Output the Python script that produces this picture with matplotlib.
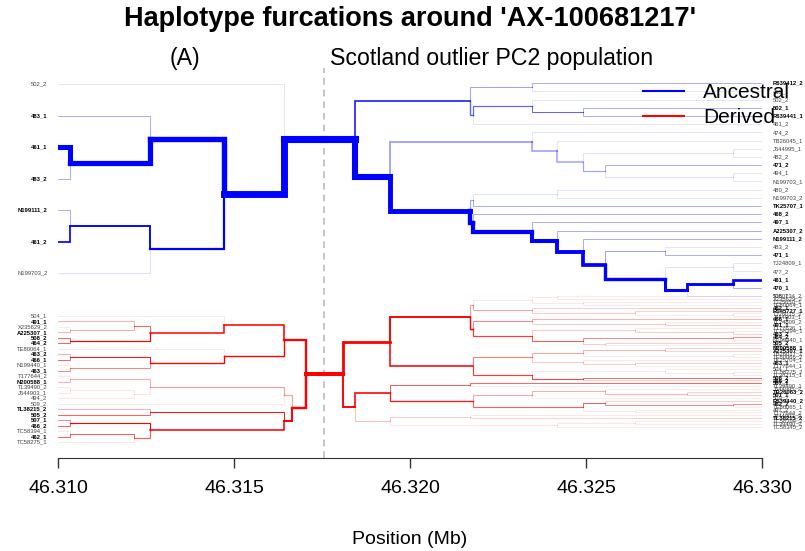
import numpy as np
import matplotlib.pyplot as plt
from matplotlib.lines import Line2D

plt.rcParams['font.family'] = ['Liberation Sans', 'DejaVu Sans']

# focal marker and axis
core_pos = 46.31756
x_ticks = [46.310, 46.315, 46.320, 46.325, 46.330]

# trees: (split position in Mb, child, child) ; leaves = haplotype labels
blue_left = (46.31642, "502_2",
             (46.31472,
              (46.31261, "483_1", (46.31034, "461_1", "483_2")),
              (46.31261, (46.31034, "N199111_2", "461_2"), "N199703_2")))
blue_left_counts = {"461_1": 26, "461_2": 6, "N199703_2": 2}
blue_left_bold = ["483_1", "461_1", "483_2", "N199111_2", "461_2"]

blue_right = (46.31844,
              (46.32170,
               (46.32346, "R639412_2", "465_1"),
               (46.32178, (46.32346, "502_2", (46.32492, "502_1", "R639441_1")), "461_2")),
              (46.31943,
               (46.32346, "474_2",
                (46.32419, "TB26045_1",
                 (46.32492, (46.32918, "J644995_1", "482_2"),
                  (46.32554, "471_2", (46.32918, "494_1", "N199703_1"))))),
               (46.32170,
                (46.32178, (46.32419, "480_2", "N199703_2"), "TK25707_1"),
                (46.32178, "468_2",
                 (46.32346, "497_1",
                  (46.32419, "A225307_2",
                   (46.32492, "N199111_2",
                    (46.32554, (46.32724, "483_2", "471_1"),
                     (46.32724, (46.32918, "TJ24809_1", "477_2"),
                      (46.32788, (46.32918, "461_1", "470_1"), "508_1"))))))))))
blue_right_counts = {"461_1": 12}
blue_right_bold = ["R639412_2", "502_1", "R639441_1", "471_2", "TK25707_1", "468_2",
                   "497_1", "A225307_2", "N199111_2", "471_1", "461_1", "470_1"]

red_left = (46.31704,
            (46.31642,
             (46.31472, "504_1",
              (46.31261, (46.31216, "491_1", (46.31034, "X235629_2", "A225307_1")),
               (46.31034, "508_2", "464_2"))),
             (46.31472, "TE80064_1",
              (46.31261, (46.31034, "463_2", "466_1"), (46.31034, "N199440_1", "463_1")))),
            (46.31664,
             (46.31642,
              (46.31261, (46.31034, "T177644_2", "N200588_1"),
               (46.31216, (46.31034, "TL39490_2", "J644903_1"), "494_2")),
              "509_2"),
             (46.31642,
              (46.31261, "TL38215_2", "505_2"),
              (46.31261, (46.31034, "507_1", "466_2"),
               (46.31216, (46.31034, "TC58394_1", "462_1"), "TC58275_1")))))
red_left_counts = {"491_1": 2, "A225307_1": 2, "508_2": 4, "464_2": 4, "463_2": 2,
                   "466_1": 4, "463_1": 3, "N200588_1": 2, "J644903_1": 2,
                   "TL38215_2": 2, "505_2": 4, "507_1": 3, "466_2": 4, "462_1": 4,
                   "TC58275_1": 2}
red_left_bold = ["491_1", "A225307_1", "508_2", "464_2", "463_2", "466_1", "463_1",
                 "N200588_1", "TL38215_2", "505_2", "507_1", "466_2", "462_1"]

red_right_names = ["TJ80734_2", "X235629_2", "TJ25650_1", "TE80064_1", "462_1",
                   "R045727_1", "TJ26015_2", "J644903_1", "466_1", "TL24809_2",
                   "491_1", "T177636_1", "TC58394_1", "463_2", "464_2",
                   "N199440_1", "505_2", "494_2", "N200588_1", "A225307_1",
                   "TB26017_1", "TE80066_2", "TK25704_1", "463_1", "T177644_1",
                   "504_1", "TC58275_2", "TL38215_1", "508_2", "466_2",
                   "507_1", "TL39490_1", "J644995_2", "TB26063_2", "501_1",
                   "509_2", "R639440_2", "462_2", "TE80065_1", "497_2",
                   "T177644_2", "J644903_2", "TL38215_2", "TC58394_2", "TL39490_2",
                   "TC58345_2"]
red_right = (46.31811,
             (46.31943,
              (46.32170,
               (46.32178, (46.32346, (46.32419, 0, 1), (46.32492, 2, 3)),
                (46.32346, 4, (46.32639, 5, (46.32918, 6, 7)))),
               (46.32178, (46.32346, 8, (46.32724, 9, 10)),
                (46.32346, (46.32639, 11, (46.32918, 12, 13)),
                 (46.32492, (46.32918, 14, 15), (46.32554, 16, 17))))),
              (46.32178,
               (46.32346, (46.32492, (46.32724, 18, 19), (46.32918, 20, 21)),
                (46.32492, 22, (46.32639, 23, 24))),
               (46.32346, (46.32724, 25, (46.32918, 26, 27)), (46.32492, 28, 29)))),
             (46.31844,
              (46.31943, (46.32170, 30, 31),
               (46.32178, (46.32346, (46.32554, 32, (46.32788, 33, 34)), 35),
                (46.32492, (46.32554, 36, (46.32918, 37, 38)), (46.32639, 39, 40)))),
              (46.31943, (46.32170, 41, 42), (46.32419, (46.32639, 43, 44), 45))))
red_right_counts = {"466_1": 2, "464_2": 3, "508_2": 4, "507_1": 4, "462_2": 3}
red_right_bold = ["462_1", "R045727_1", "466_1", "491_1", "463_2", "464_2", "505_2",
                  "N200588_1", "A225307_1", "463_1", "508_2", "466_2", "507_1",
                  "TB26063_2", "501_1", "R639440_2", "462_2", "TL38215_2"]

fig = plt.figure(figsize=(8.05, 5.51), dpi=100)
ax = fig.add_axes([58 / 805, 93 / 551, 704 / 805, 390 / 551])
ax.set_xlim(46.310, 46.330)
ax.set_ylim(458, 68)


def n_leaves(node):
    if not isinstance(node, tuple):
        return 1
    return sum(n_leaves(k) for k in node[1:])


def build(node, edge, ys, counts, bold, names):
    if not isinstance(node, tuple):
        label = names[node] if names else node
        n = counts.get(label, 1)
        return {"x": edge, "y": ys.pop(0), "n": n, "nb": n if label in bold else 0,
                "kids": [], "label": label, "bold": label in bold}
    kids = [build(k, edge, ys, counts, bold, names) for k in node[1:]]
    return {"x": node[0], "y": np.mean([k["y"] for k in kids]),
            "n": sum(k["n"] for k in kids), "nb": sum(k["nb"] for k in kids),
            "kids": kids, "label": None}


def draw_tree(tree, edge, y_top, y_bot, counts, bold, color, maxw, astep, names=None):
    ys = list(np.linspace(y_top, y_bot, n_leaves(tree)))
    root = build(tree, edge, ys, counts, bold, names)
    segs = []

    def walk(nd, px, py):
        segs.append(([px, px, nd["x"]], [py, nd["y"], nd["y"]], nd["n"], nd["nb"]))
        for k in nd["kids"]:
            walk(k, nd["x"], nd["y"])
        if nd["label"]:
            left = edge < core_pos
            ax.text(edge - 0.0003 if left else edge + 0.0003, nd["y"], nd["label"],
                    ha="right" if left else "left", va="center", fontsize=4.2,
                    fontweight="bold" if nd["bold"] else "normal",
                    color="black" if nd["bold"] else "#444444", clip_on=False)

    walk(root, core_pos, root["y"])
    for xs, yy, n, nb in sorted(segs, key=lambda s: s[2]):
        ax.plot(xs, yy, color=color, lw=0.5 + maxw * n / root["n"],
                alpha=min(1.0, 0.12 + astep * nb),
                solid_capstyle="projecting", solid_joinstyle="miter")


ax.axvline(core_pos, color="#bbbbbb", lw=1.2, dashes=(4, 3), zorder=0)

draw_tree(blue_left, 46.310, 84, 273, blue_left_counts, blue_left_bold, "#0000ff", 4.6, 0.25)
draw_tree(blue_right, 46.330, 83.3, 296, blue_right_counts, blue_right_bold, "#0000ff", 4.6, 0.25)
draw_tree(red_left, 46.310, 316, 442, red_left_counts, red_left_bold, "#ff0000", 2.4, 0.13)
draw_tree(red_right, 46.330, 296, 427, red_right_counts, red_right_bold, "#ff0000", 2.4, 0.13,
          names=red_right_names)

for s in ["top", "left", "right"]:
    ax.spines[s].set_visible(False)
ax.spines["bottom"].set_bounds(46.310, 46.330)
ax.spines["bottom"].set_color("#333333")
ax.set_yticks([])
ax.set_xticks(x_ticks)
ax.set_xticklabels([f"{t:.3f}" for t in x_ticks])
ax.tick_params(axis="x", length=7, width=1, labelsize=14, pad=9, color="#333333")

handles = [Line2D([], [], color="#0000ff", lw=1.5), Line2D([], [], color="#ff0000", lw=1.5)]
ax.legend(handles, ["Ancestral", "Derived"], loc="upper right", bbox_to_anchor=(1.04, 0.962),
          frameon=False, fontsize=15, borderpad=0, borderaxespad=0,
          handlelength=2, handletextpad=0.9, labelspacing=0.3)

fig.text(0.51, 1 - 19 / 551, "Haplotype furcations around 'AX-100681217'",
         ha="center", va="center", fontsize=19.5, fontweight="bold")
fig.text(185 / 805, 1 - 58 / 551, "(A)", ha="center", va="center", fontsize=16.7)
fig.text(492 / 805, 1 - 58 / 551, "Scotland outlier PC2 population",
         ha="center", va="center", fontsize=16.7)
fig.text(410 / 805, 1 - 540 / 551, "Position (Mb)", ha="center", va="center", fontsize=14)

fig.savefig("out.png", dpi=100)
